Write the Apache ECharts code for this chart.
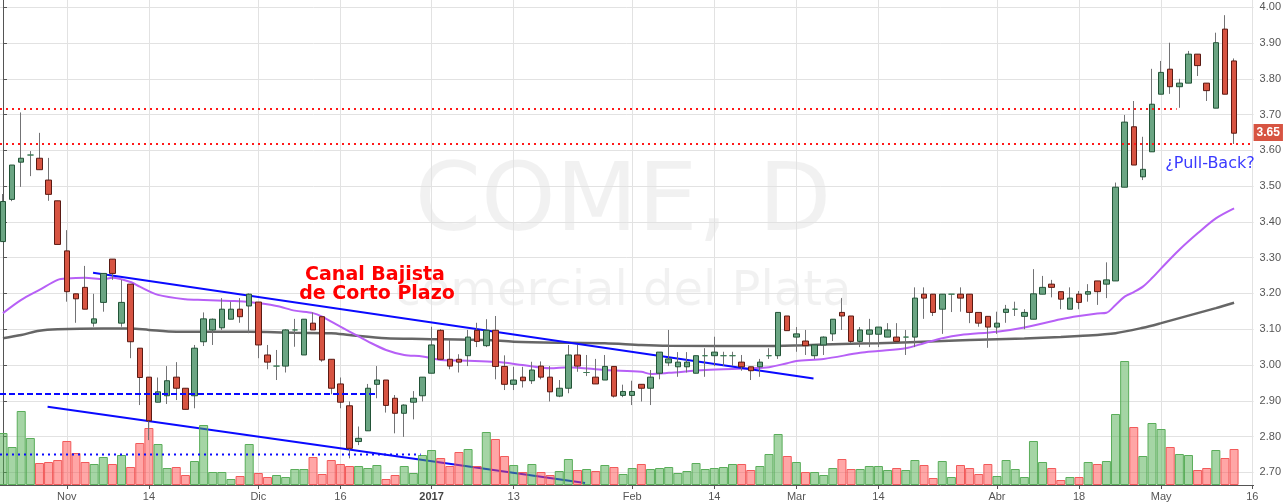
<!DOCTYPE html>
<html><head><meta charset="utf-8">
<script src="https://cdn.jsdelivr.net/npm/echarts@6/dist/echarts.min.js"></script>
<style>html,body{margin:0;padding:0;background:#fff}#c{width:1284px;height:503px}</style>
</head><body><div id="c"></div>
<script>
// ---- data ----
const opens = [
3.345,3.463,3.567,3.587,3.578,3.517,3.459,3.319,3.199,3.217,
3.117,3.175,3.296,3.117,3.226,3.047,2.966,2.896,2.914,2.966,
2.935,2.914,3.065,3.098,3.104,3.128,3.156,3.165,3.176,3.028,
2.997,2.997,3.098,3.028,3.117,3.135,3.016,2.947,2.886,2.786,
2.816,2.946,2.958,2.907,2.865,2.896,2.914,2.977,3.097,3.016,
3.016,3.026,3.097,3.054,3.097,2.996,2.946,2.966,2.956,2.997,
2.966,2.913,2.935,3.028,2.979,2.966,2.958,2.996,2.915,2.915,
2.946,2.935,2.977,3.006,2.995,2.995,2.977,3.026,3.026,3.026,
3.026,3.008,2.995,2.995,3.026,3.026,3.137,3.078,3.067,3.026,
3.056,3.087,3.147,3.137,3.066,3.086,3.086,3.078,3.078,3.078,
3.078,3.198,3.198,3.156,3.198,3.198,3.198,3.147,3.136,3.106,
3.147,3.156,3.136,3.128,3.198,3.226,3.205,3.156,3.198,3.198,
3.235,3.226,3.235,3.497,3.666,3.526,3.596,3.757,3.827,3.778,
3.788,3.869,3.788,3.718,3.939,3.850];
const closes = [
3.457,3.559,3.578,3.587,3.546,3.477,3.337,3.205,3.185,3.156,
3.129,3.256,3.256,3.175,3.065,2.965,2.844,2.925,2.956,2.935,
2.876,3.047,3.129,3.128,3.156,3.156,3.135,3.198,3.056,3.008,
2.997,3.098,3.098,3.128,3.098,3.014,2.935,2.896,2.767,2.795,
2.935,2.958,2.887,2.865,2.888,2.907,2.966,3.056,3.016,2.997,
3.008,3.078,3.066,3.097,2.996,2.946,2.958,2.956,2.986,2.966,
2.925,2.935,3.028,2.997,2.979,2.947,2.996,2.913,2.926,2.926,
2.935,2.966,3.036,3.017,3.008,3.008,3.026,3.026,3.036,3.026,
3.026,2.995,2.984,3.008,3.026,3.147,3.096,3.087,3.054,3.056,
3.078,3.128,3.137,3.066,3.098,3.098,3.106,3.098,3.066,3.078,
3.187,3.187,3.147,3.198,3.198,3.187,3.147,3.117,3.106,3.117,
3.156,3.156,3.147,3.199,3.217,3.217,3.184,3.187,3.175,3.205,
3.205,3.238,3.497,3.679,3.559,3.547,3.729,3.818,3.778,3.788,
3.869,3.837,3.767,3.901,3.757,3.648];
const lows = [
3.345,3.458,3.498,3.528,3.546,3.459,3.337,3.177,3.118,3.156,
3.107,3.149,3.238,3.107,3.019,2.888,2.790,2.896,2.891,2.902,
2.876,2.879,3.053,3.056,3.098,3.128,3.118,3.089,3.019,2.988,
2.958,2.979,3.051,3.028,3.098,3.009,2.918,2.879,2.739,2.776,
2.816,2.907,2.867,2.809,2.799,2.848,2.898,2.977,3.016,2.988,
2.979,2.997,3.050,3.050,2.960,2.930,2.930,2.937,2.947,2.960,
2.898,2.910,2.921,2.981,2.969,2.947,2.958,2.909,2.910,2.888,
2.898,2.888,2.960,2.997,2.967,2.979,2.977,2.967,2.997,2.997,
2.997,2.984,2.958,2.967,3.017,3.017,3.096,3.037,3.028,3.017,
3.028,3.067,3.098,3.061,3.050,3.050,3.050,3.078,3.066,3.028,
3.050,3.129,3.137,3.087,3.148,3.149,3.117,3.107,3.048,3.087,
3.118,3.137,3.100,3.128,3.198,3.189,3.156,3.156,3.156,3.177,
3.168,3.187,3.235,3.497,3.559,3.517,3.596,3.757,3.758,3.719,
3.788,3.808,3.738,3.718,3.757,3.618];
const highs = [
3.478,3.559,3.706,3.598,3.649,3.579,3.459,3.377,3.199,3.277,
3.199,3.256,3.296,3.238,3.226,3.047,2.966,2.965,2.997,3.008,
2.935,3.056,3.147,3.130,3.187,3.177,3.187,3.200,3.176,3.056,
3.042,3.100,3.129,3.128,3.147,3.135,3.016,2.965,2.898,2.828,
2.947,2.997,2.958,2.916,2.890,2.927,2.966,3.107,3.100,3.070,
3.030,3.098,3.118,3.128,3.137,3.027,2.995,2.995,3.009,3.010,
2.997,2.958,3.056,3.056,3.028,3.017,3.028,2.996,2.945,2.956,
2.946,2.986,3.036,3.098,3.036,3.036,3.026,3.047,3.079,3.037,
3.037,3.028,2.995,3.017,3.047,3.147,3.137,3.106,3.098,3.056,
3.080,3.128,3.187,3.137,3.106,3.129,3.106,3.117,3.117,3.098,
3.217,3.217,3.198,3.198,3.198,3.217,3.198,3.147,3.136,3.149,
3.168,3.177,3.156,3.268,3.249,3.238,3.205,3.217,3.207,3.226,
3.235,3.287,3.510,3.699,3.738,3.638,3.828,3.850,3.901,3.800,
3.878,3.869,3.788,3.929,3.978,3.857];
// volume, thousands of shares (relative)
const volumes = [
520,380,740,470,220,230,250,440,320,230,
210,280,210,300,180,420,570,410,170,180,
100,240,600,130,130,60,90,410,120,80,
100,80,160,160,280,110,250,210,190,190,
170,200,60,100,190,120,300,350,270,190,
330,360,190,530,460,290,200,130,210,130,
100,140,260,150,160,140,200,180,110,170,
210,160,170,180,120,140,220,160,170,180,
210,210,150,190,310,510,290,230,130,130,
100,170,260,160,160,190,190,150,170,150,
250,200,70,240,80,200,170,110,210,90,
250,160,80,440,230,170,50,80,80,230,
210,240,710,1240,580,290,620,560,380,310,
300,150,170,350,270,360];
// moving averages sampled along the drawn curves: [bar index, value]
const maFast = [[0,3.145],[2,3.182],[4,3.210],[6,3.238],[7,3.242],[9,3.244],[11,3.240],[12,3.244],[14,3.232],[15,3.219],[17,3.196],[20,3.184],[22,3.182],[25,3.179],[27,3.176],[30,3.165],[32,3.152],[34,3.145],[35,3.135],[37,3.107],[39,3.080],[40,3.066],[42,3.042],[44,3.028],[46,3.024],[48,3.014],[51,3.012],[54,3.009],[57,3.000],[60,2.991],[62,2.994],[66,2.986],[70,2.981],[71,2.975],[73,2.978],[77,2.986],[82,2.991],[84,2.994],[86,3.005],[87,3.011],[90,3.017],[94,3.034],[96,3.039],[99,3.047],[101,3.061],[103,3.075],[105,3.084],[109,3.093],[112,3.105],[116,3.128],[118,3.137],[120,3.144],[121,3.146],[122,3.168],[123,3.191],[124,3.204],[125,3.219],[126,3.243],[127,3.270],[129,3.322],[131,3.368],[133,3.410],[135,3.438]];
const maSlow = [[0,3.075],[2,3.084],[4,3.096],[6,3.100],[11,3.102],[14,3.102],[16,3.098],[19,3.093],[25,3.093],[29,3.092],[32,3.090],[36,3.089],[38,3.084],[42,3.075],[46,3.073],[53,3.070],[56,3.065],[62,3.062],[66,3.061],[70,3.056],[73,3.054],[84,3.053],[88,3.055],[92,3.059],[96,3.061],[103,3.067],[106,3.070],[112,3.074],[116,3.078],[118,3.081],[122,3.089],[125,3.104],[127,3.117],[130,3.138],[133,3.159],[135,3.174]];
const tickIdx = [7,16,28,37,47,56,69,78,87,96,109,118,127,137];
const tickLabels = ['Nov','14','Dic','16','2017','13','Feb','14','Mar','14','Abr','18','May','16'];
const priceTicks = [2.7,2.8,2.9,3.0,3.1,3.2,3.3,3.4,3.5,3.6,3.7,3.8,3.9,4.0];
// drawings
const resistanceHigh = 3.716, resistanceLow = 3.618;
const supportDashed = 2.919, supportDotted = 2.750;
const channelUpper = [[9.875,3.258],[88.88,2.962]];
const channelLower = [[4.89,2.883],[63.83,2.670]];

// ---- chart ----
const X_MIN = -0.328, X_MAX = 137.14, Y_MIN = 2.6645, Y_MAX = 4.0204;
const n = opens.length;
const UP = '#6ba583', DOWN = '#d75442', UPB = '#225437', DOWNB = '#5b1a13', WICK = '#737375';
const wickData = opens.map((o,i)=>[i,o,closes[i],lows[i],highs[i]]);
const bodyData = opens.map((o,i)=>[i,o,closes[i],Math.min(o,closes[i]),Math.max(o,closes[i])]);
const volData = volumes.map((v,i)=>({value:[i,v], itemStyle: closes[i]>=opens[i]
  ? {color:'rgba(76,172,76,0.5)', borderColor:'#5aad5a', borderWidth:1}
  : {color:'rgba(255,78,78,0.5)', borderColor:'#f25a5a', borderWidth:1}}));
function hline(v, x1, color, dash){
  return {type:'line', data:[[X_MIN,v],[x1,v]], symbol:'none', silent:true, z:6,
    lineStyle:{color:color, width:2, type:dash}};
}
const chart = echarts.init(document.getElementById('c'), null, {renderer:'canvas'});
chart.setOption({
  animation:false,
  backgroundColor:'#ffffff',
  grid:{left:0, right:27, top:0, bottom:18},
  xAxis:{type:'value', min:X_MIN, max:X_MAX,
    axisLine:{show:true, onZero:false, lineStyle:{color:'#555', width:1}},
    axisTick:{show:true, length:4, customValues:tickIdx, lineStyle:{color:'#555'}},
    axisLabel:{customValues:tickIdx, color:'#555', fontSize:11, fontFamily:'Liberation Sans', margin:6,
      formatter:v=>{const k=tickIdx.indexOf(Math.round(v)); const t=k<0?'':tickLabels[k]; return t==='2017'?'{b|'+t+'}':t;},
      rich:{b:{fontWeight:'bold', color:'#444', fontSize:11, fontFamily:'Liberation Sans'}}},
    splitLine:{show:true, lineStyle:{color:'#e2e2e2', width:1}}
  },
  yAxis:[{type:'value', position:'right', min:Y_MIN, max:Y_MAX,
    axisLine:{show:true, lineStyle:{color:'#555', width:1}},
    axisTick:{show:true, length:4, customValues:priceTicks, lineStyle:{color:'#555'}},
    axisLabel:{customValues:priceTicks, formatter:v=>v.toFixed(2), color:'#555', fontSize:11, fontFamily:'Liberation Sans', margin:6},
    splitLine:{show:true, lineStyle:{color:'#e2e2e2', width:1}}
  },{type:'value', min:0, max:4850, show:false, splitLine:{show:false}}],
  graphic:[
    {type:'text', x:623, y:205, z:-5, silent:true, style:{text:'COME, D', font:'95px "DejaVu Sans"', fill:'rgba(0,0,0,0.055)', align:'center', verticalAlign:'middle'}},
    {type:'text', x:623, y:293, z:-5, silent:true, style:{text:'comercial del Plata', font:'48px "DejaVu Sans"', fill:'rgba(0,0,0,0.055)', align:'center', verticalAlign:'middle'}},
    {type:'text', x:375, y:275, z:100, silent:true, style:{text:'Canal Bajista', font:'bold 19px "DejaVu Sans"', fill:'#ff0000', align:'center', verticalAlign:'middle'}},
    {type:'text', x:377, y:294, z:100, silent:true, style:{text:'de Corto Plazo', font:'bold 19px "DejaVu Sans"', fill:'#ff0000', align:'center', verticalAlign:'middle'}},
    {type:'text', x:1210, y:164, z:100, silent:true, style:{text:'¿Pull-Back?', font:'16px "DejaVu Sans"', fill:'#3a3aff', align:'center', verticalAlign:'middle'}}
  ],
  series:[
    {type:'line', data:channelLower, symbol:'none', silent:true, z:1, lineStyle:{color:'#0a0aff', width:2}},
    {type:'bar', yAxisIndex:1, data:volData, barWidth:9, silent:true, z:2},
    {type:'line', data:maSlow, symbol:'none', smooth:0.3, silent:true, z:3, lineStyle:{color:'#555555', width:2.5, opacity:0.9}},
    {type:'line', data:maFast, symbol:'none', smooth:0.3, silent:true, z:3, lineStyle:{color:'#b760f6', width:2}},
    {type:'line', data:channelUpper, symbol:'none', silent:true, z:3, lineStyle:{color:'#0a0aff', width:2}},
    {type:'candlestick', data:wickData, barWidth:1, silent:true, z:4,
      itemStyle:{color:WICK, color0:WICK, borderColor:WICK, borderColor0:WICK, borderColorDoji:WICK, borderWidth:1}},
    {type:'candlestick', data:bodyData, barWidth:6, silent:true, z:5,
      itemStyle:{color:UP, color0:DOWN, borderColor:UPB, borderColor0:DOWNB, borderColorDoji:'#3d7a55', borderWidth:1}},
    {type:'line', data:[[X_MAX, closes[n-1]]], symbol:'none', silent:true, z:20,
      lineStyle:{width:0},
      markLine:{silent:true, symbol:'none', lineStyle:{color:'rgba(0,0,0,0)', width:1, type:'solid'},
        label:{show:true, position:'end', distance:0, formatter:p=>Number(p.value).toFixed(2), backgroundColor:'#d75442', color:'#ffffff', fontWeight:'bold', fontSize:12, fontFamily:'Liberation Sans', padding:[3,3,2,3]},
        data:[{yAxis:closes[n-1]}]}},
    hline(resistanceHigh, 128.7, '#ff1a1a', [2,4]),
    hline(resistanceLow, 136.9, '#ff1a1a', [2,4]),
    hline(supportDashed, 40.9, '#0a0aff', [6,3]),
    hline(supportDotted, 45.8, '#0a0aff', [2,4])
  ]
});
</script></body></html>
